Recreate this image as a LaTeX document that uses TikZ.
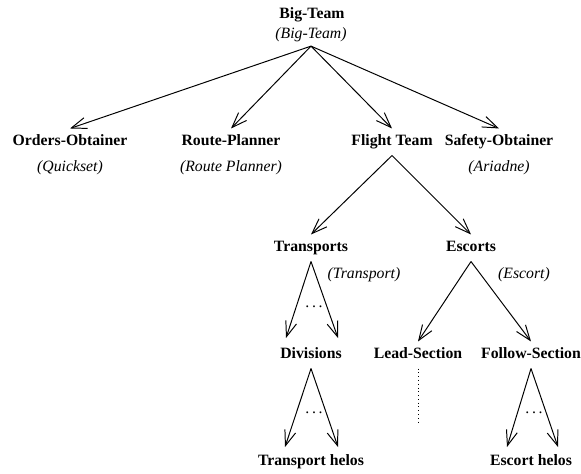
\documentclass[tikz,border=0pt]{standalone}
\usepackage{fontspec}
\setmainfont{Liberation Serif}
\usetikzlibrary{arrows.meta}
\tikzset{
  teamlbl/.style={font=\fontsize{11.2}{13}\selectfont\bfseries, inner sep=0pt, outer sep=0.18cm, text height=0.7em, text depth=0.2em},
  agentlbl/.style={font=\fontsize{11.2}{13}\selectfont\itshape, inner sep=0pt, outer sep=0.12cm, text height=0.7em, text depth=0.2em},
  more/.style={font=\fontsize{11.2}{13}\selectfont, inner sep=0pt},
  arr/.style={line width=0.7pt, -{Straight Barb[length=3.8mm,width=2.8mm]}},
}
\begin{document}
\begin{tikzpicture}
    \useasboundingbox (0,0) rectangle (14.525,11.825);
    % top
    \node[teamlbl] (big) at (7.8,11.45) {Big-Team};
    \node[agentlbl] (bigag) at (7.775,10.95) {(Big-Team)};
    % first level
    \node[teamlbl] (orders) at (1.75,8.275) {Orders-Obtainer};
    \node[agentlbl] (ordersag) at (1.75,7.625) {(Quickset)};
    \node[teamlbl] (route) at (5.775,8.275) {Route-Planner};
    \node[agentlbl] (routeag) at (5.775,7.625) {(Route Planner)};
    \node[teamlbl] (flight) at (9.8,8.275) {Flight Team};
    \node[teamlbl] (safety) at (12.475,8.275) {Safety-Obtainer};
    \node[agentlbl] (safetyag) at (12.475,7.625) {(Ariadne)};
    \draw[arr] (bigag.south) -- (orders.north);
    \draw[arr] (bigag.south) -- (route.north);
    \draw[arr] (bigag.south) -- (flight.north);
    \draw[arr] (bigag.south) -- (safety.north);
    % second level
    \node[teamlbl] (trans) at (7.775,5.625) {Transports};
    \node[agentlbl] (transag) at (9.1,4.95) {(Transport)};
    \node[teamlbl] (esc) at (11.775,5.625) {Escorts};
    \node[agentlbl] (escag) at (13.1,4.95) {(Escort)};
    \draw[arr] (flight.south) -- (trans.north);
    \draw[arr] (flight.south) -- (esc.north);
    % third level
    \node[teamlbl] (div) at (7.775,2.95) {Divisions};
    \node[teamlbl] (lead) at (10.45,2.95) {Lead-Section};
    \node[teamlbl] (follow) at (13.275,2.95) {Follow-Section};
    \coordinate (divl) at (7.15,3.375);
    \coordinate (divr) at (8.45,3.375);
    \node[more] (transdots) at (7.85,4.15) {.\,.\,.};
    \draw[arr] (trans.south) -- (divl);
    \draw[arr] (trans.south) -- (divr);
    \draw[arr] (esc.south) -- (lead.north);
    \draw[arr] (esc.south) -- (follow.north);
    \coordinate (leadend) at (10.45,1.25);
    \draw[dotted, line width=0.7pt] (lead.south) -- (leadend);
    % helos
    \node[teamlbl] (transhelo) at (7.775,0.275) {Transport helos};
    \node[teamlbl] (eschelo) at (13.275,0.275) {Escort helos};
    \coordinate (thl) at (7.125,0.65);
    \coordinate (thr) at (8.45,0.65);
    \coordinate (ehl) at (12.675,0.65);
    \coordinate (ehr) at (13.95,0.65);
    \node[more] (divdots) at (7.85,1.5) {.\,.\,.};
    \node[more] (folldots) at (13.35,1.5) {.\,.\,.};
    \draw[arr] (div.south) -- (thl);
    \draw[arr] (div.south) -- (thr);
    \draw[arr] (follow.south) -- (ehl);
    \draw[arr] (follow.south) -- (ehr);
\end{tikzpicture}
\end{document}
